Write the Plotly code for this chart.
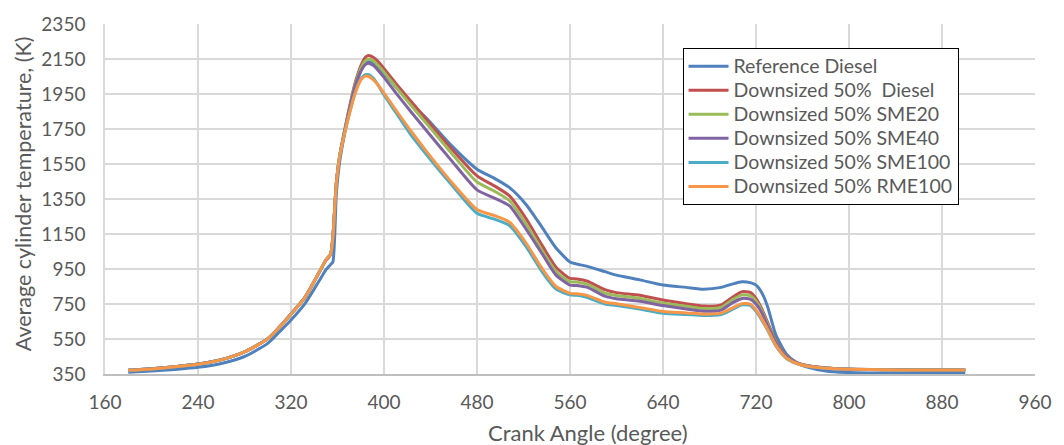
import plotly.graph_objects as go

crank_angle = [180, 200, 220, 240, 260, 280, 300, 310, 320, 332, 344, 350, 354, 356, 359, 362, 366, 370,
               375, 380, 384, 387, 391, 395, 400, 410, 423, 437, 457, 480, 495, 508, 522, 536, 548, 560,
               566, 575, 590, 600, 620, 640, 660, 675, 690, 700, 708, 715, 720, 725, 730, 737, 746, 755,
               765, 780, 800, 830, 860, 900]

ref_diesel = [360, 367, 376, 388, 410, 450, 525, 590, 658, 752, 880, 945, 975, 990, 1380, 1570, 1720, 1850,
              1980, 2080, 2125, 2135, 2128, 2105, 2068, 1992, 1897, 1808, 1662, 1520, 1468, 1415, 1320, 1188, 1070, 990,
              978, 965, 935, 915, 888, 858, 845, 835, 845, 865, 877, 872, 858, 815, 735, 575, 465, 415,
              388, 367, 358, 355, 354, 354]

ds_diesel = [372, 380, 392, 407, 432, 477, 552, 618, 693, 788, 928, 1000, 1032, 1130, 1440, 1600, 1740, 1865,
             2010, 2110, 2160, 2170, 2158, 2135, 2095, 2012, 1910, 1800, 1645, 1482, 1425, 1368, 1240, 1085, 960, 896,
             893, 880, 832, 815, 800, 773, 752, 738, 745, 790, 820, 816, 782, 722, 645, 540, 452, 415,
             397, 385, 378, 375, 373, 373]

ds_sme20 = [372, 380, 392, 407, 432, 477, 552, 618, 693, 788, 928, 1000, 1032, 1130, 1440, 1600, 1735, 1860,
            2000, 2095, 2140, 2150, 2138, 2112, 2075, 1992, 1887, 1778, 1620, 1447, 1395, 1340, 1210, 1056, 935, 877,
            875, 862, 812, 798, 782, 754, 737, 724, 730, 775, 802, 798, 768, 712, 635, 535, 450, 414,
            396, 384, 377, 375, 373, 373]

ds_sme40 = [372, 380, 392, 407, 432, 477, 552, 618, 693, 788, 928, 1000, 1032, 1130, 1440, 1600, 1730, 1855,
            1990, 2080, 2118, 2125, 2112, 2085, 2045, 1958, 1850, 1737, 1578, 1402, 1355, 1311, 1180, 1037, 915, 858,
            856, 845, 795, 780, 766, 741, 722, 709, 715, 758, 782, 778, 750, 700, 625, 530, 448, 413,
            396, 384, 377, 375, 373, 373]

ds_sme100 = [371, 379, 391, 406, 431, 476, 551, 617, 692, 787, 928, 1003, 1035, 1130, 1440, 1600, 1725, 1835,
             1955, 2035, 2060, 2060, 2038, 2000, 1944, 1846, 1718, 1600, 1440, 1268, 1235, 1198, 1080, 934, 835, 802,
             800, 787, 750, 742, 721, 697, 690, 684, 690, 720, 745, 742, 708, 658, 600, 512, 440, 410,
             394, 383, 377, 374, 373, 373]

ds_rme100 = [371, 379, 391, 406, 431, 476, 551, 617, 692, 787, 928, 1003, 1035, 1130, 1440, 1600, 1720, 1830,
             1950, 2030, 2052, 2050, 2030, 2000, 1955, 1860, 1740, 1618, 1455, 1290, 1255, 1217, 1100, 952, 850, 811,
             808, 798, 760, 752, 730, 707, 699, 692, 698, 728, 752, 750, 716, 665, 605, 515, 442, 410,
             394, 383, 377, 374, 373, 373]

series_names = ["Reference Diesel", "Downsized 50%  Diesel", "Downsized 50% SME20",
                "Downsized 50% SME40", "Downsized 50% SME100", "Downsized 50% RME100"]
series_values = [ref_diesel, ds_diesel, ds_sme20, ds_sme40, ds_sme100, ds_rme100]
colors = ["#4F81BD", "#C0504D", "#9BBB59", "#8064A2", "#4BACC6", "#F79646"]

x_ticks = list(range(160, 961, 80))
y_ticks = list(range(350, 2351, 200))

fig = go.Figure()
for name, vals, col in zip(series_names, series_values, colors):
    label = '<span style="font-size:19.5px">' + name.replace("  ", "&nbsp; ") + "</span>"
    fig.add_trace(go.Scatter(x=crank_angle, y=vals, name=label, mode="lines",
                             line=dict(color=col, width=3, shape="spline", smoothing=0.6)))

font_family = "Lato, 'Open Sans', sans-serif"
text_color = "#595959"
fig.update_layout(
    width=1064, height=445,
    margin=dict(l=105, r=21, t=20, b=71),
    paper_bgcolor="white", plot_bgcolor="white",
    font=dict(family=font_family, size=19, color=text_color),
    showlegend=True,
    legend=dict(x=0.621, y=0.931, xanchor="left", yanchor="top",
                bgcolor="white", bordercolor="#000000", borderwidth=1,
                font=dict(size=16.2, color=text_color, family=font_family),
                tracegroupgap=0, itemwidth=40),
    annotations=[
        dict(text="Crank Angle (degree)", xref="paper", yref="paper", x=0.519, y=-0.168,
             xanchor="center", yanchor="middle", showarrow=False,
             font=dict(size=22, color=text_color, family=font_family)),
        dict(text="Average cylinder temperature, (K)", xref="paper", yref="paper", x=-0.0885, y=0.5155,
             xanchor="center", yanchor="middle", textangle=-90, showarrow=False,
             font=dict(size=21.5, color=text_color, family=font_family)),
    ],
)
fig.update_xaxes(range=[160, 960], tickvals=x_ticks, showgrid=True, gridcolor="#D9D9D9", gridwidth=1.5,
                 showline=True, linecolor="#BFBFBF", linewidth=1.5, zeroline=False, ticks="",
                 ticklabelstandoff=10, ticklabeloverflow="allow")
fig.update_yaxes(range=[350, 2350], tickvals=y_ticks, showgrid=True, gridcolor="#D9D9D9", gridwidth=1.5,
                 showline=True, linecolor="#D9D9D9", linewidth=1.5, zeroline=False, ticks="",
                 ticklabelstandoff=14, ticklabeloverflow="allow")

fig.write_html("out.html", config={"displayModeBar": False},
               post_script="document.body.style.margin='0px';")
